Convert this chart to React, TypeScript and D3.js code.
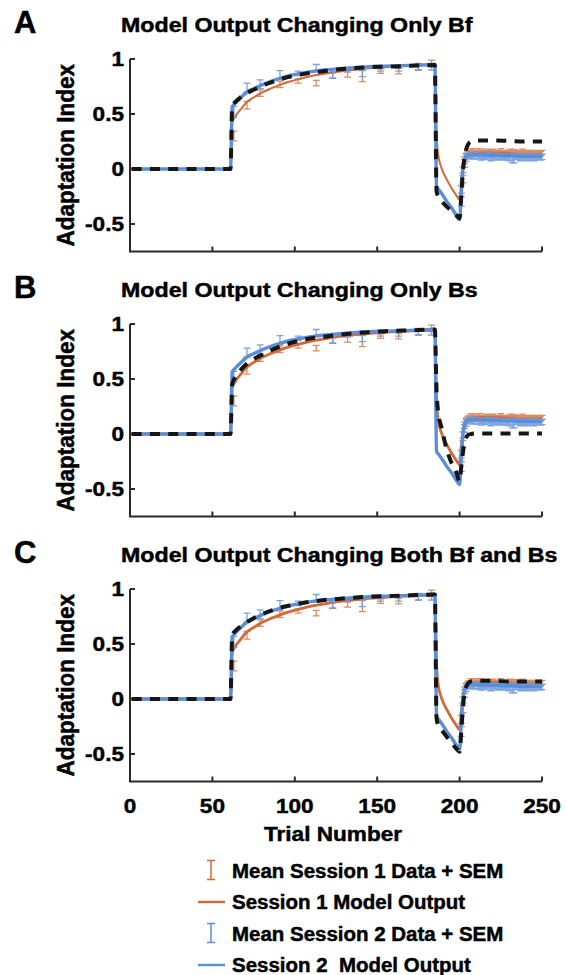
import React from 'react';
import * as d3 from 'd3';

// ---- Model output, sampled at these trial numbers ----
const modelTrials = [1, 61, 62, 64, 67, 71, 75, 80, 86, 91, 97, 102, 110, 118, 126, 135, 145, 155, 165, 175, 185, 186, 187, 189, 192, 195, 198, 200, 201, 202, 203, 204, 205, 207, 210, 220, 230, 240, 250];

const session1Model = [0, 0, 0.42, 0.48, 0.54, 0.61, 0.65, 0.695, 0.735, 0.765, 0.795, 0.815, 0.845, 0.865, 0.885, 0.9, 0.915, 0.925, 0.935, 0.94, 0.945, 0.32, 0.13, 0.01, -0.09, -0.17, -0.24, -0.28, -0.12, 0.0, 0.07, 0.11, 0.13, 0.145, 0.15, 0.15, 0.145, 0.14, 0.14];
const session2Model = [0, 0, 0.56, 0.6, 0.645, 0.7, 0.73, 0.765, 0.8, 0.825, 0.85, 0.865, 0.885, 0.9, 0.91, 0.92, 0.93, 0.935, 0.94, 0.945, 0.95, -0.16, -0.18, -0.22, -0.29, -0.35, -0.42, -0.46, -0.22, 0.0, 0.09, 0.12, 0.125, 0.13, 0.13, 0.125, 0.12, 0.115, 0.115];
const onlyBfModel = [0, 0, 0.57, 0.61, 0.65, 0.69, 0.72, 0.755, 0.79, 0.815, 0.84, 0.855, 0.875, 0.89, 0.905, 0.915, 0.925, 0.93, 0.935, 0.94, 0.945, -0.2, -0.25, -0.29, -0.34, -0.38, -0.42, -0.45, -0.25, -0.02, 0.1, 0.18, 0.22, 0.25, 0.26, 0.26, 0.255, 0.25, 0.25];
const onlyBsModel = [0, 0, 0.45, 0.52, 0.58, 0.64, 0.68, 0.72, 0.765, 0.795, 0.825, 0.845, 0.87, 0.885, 0.9, 0.915, 0.925, 0.935, 0.94, 0.945, 0.95, 0.4, 0.2, 0.06, -0.13, -0.26, -0.35, -0.43, -0.3, -0.17, -0.07, -0.03, -0.01, 0.0, 0.005, 0.005, 0.005, 0.005, 0.005];
const bothModel = [0, 0, 0.58, 0.62, 0.66, 0.7, 0.735, 0.77, 0.805, 0.83, 0.85, 0.865, 0.885, 0.9, 0.91, 0.92, 0.93, 0.935, 0.94, 0.945, 0.95, -0.17, -0.24, -0.28, -0.34, -0.4, -0.45, -0.48, -0.3, -0.08, 0.05, 0.11, 0.14, 0.16, 0.165, 0.165, 0.16, 0.16, 0.16];

// ---- Binned data during adaptation ----
const binTrials = [63, 71, 79, 91, 102, 113, 123, 132, 141, 152, 163, 175, 183];
const session1BinMean = [0.3, 0.58, 0.69, 0.77, 0.8, 0.78, 0.85, 0.87, 0.845, 0.89, 0.89, 0.93, 0.96];
const session1BinSem = [0.045, 0.035, 0.03, 0.03, 0.02, 0.025, 0.025, 0.035, 0.05, 0.02, 0.025, 0.03, 0.03];
const session2BinMean = [0.52, 0.74, 0.77, 0.855, 0.87, 0.92, 0.855, 0.9, 0.87, 0.91, 0.91, 0.92, 0.93];
const session2BinSem = [0.05, 0.04, 0.04, 0.04, 0.02, 0.03, 0.03, 0.02, 0.03, 0.02, 0.02, 0.02, 0.03];

// ---- Trial-by-trial data after the counter-perturbation (trials 201-250) ----
const washTrials = d3.range(201, 251);
const session1WashMean = [-0.2, -0.02, 0.08, 0.12, 0.14, 0.15, 0.16, 0.15, 0.16, 0.15, 0.14, 0.16, 0.15, 0.15, 0.14, 0.16, 0.15, 0.14, 0.15, 0.16, 0.15, 0.14, 0.15, 0.15, 0.16, 0.14, 0.15, 0.15, 0.14, 0.15, 0.16, 0.14, 0.15, 0.14, 0.15, 0.15, 0.14, 0.16, 0.15, 0.14, 0.15, 0.14, 0.15, 0.15, 0.14, 0.15, 0.14, 0.15, 0.14, 0.15];
const session1WashSem = [0.05, 0.04, 0.03, 0.025, 0.02, 0.02, 0.025, 0.02, 0.02, 0.015, 0.02, 0.025, 0.02, 0.02, 0.015, 0.02, 0.02, 0.02, 0.025, 0.02, 0.02, 0.015, 0.02, 0.02, 0.025, 0.02, 0.02, 0.015, 0.02, 0.02, 0.02, 0.02, 0.025, 0.02, 0.02, 0.015, 0.02, 0.02, 0.02, 0.02, 0.015, 0.02, 0.02, 0.02, 0.02, 0.015, 0.02, 0.02, 0.02, 0.02];
const session2WashMean = [-0.28, -0.08, 0.05, 0.1, 0.12, 0.12, 0.13, 0.11, 0.12, 0.13, 0.11, 0.12, 0.1, 0.12, 0.11, 0.12, 0.13, 0.11, 0.1, 0.12, 0.11, 0.12, 0.1, 0.11, 0.12, 0.11, 0.1, 0.12, 0.11, 0.1, 0.11, 0.09, 0.1, 0.11, 0.12, 0.11, 0.1, 0.11, 0.12, 0.11, 0.1, 0.11, 0.12, 0.11, 0.1, 0.11, 0.12, 0.11, 0.1, 0.11];
const session2WashSem = [0.06, 0.045, 0.035, 0.03, 0.025, 0.02, 0.025, 0.02, 0.025, 0.02, 0.02, 0.025, 0.02, 0.02, 0.025, 0.02, 0.02, 0.02, 0.025, 0.02, 0.02, 0.025, 0.02, 0.02, 0.02, 0.025, 0.02, 0.02, 0.02, 0.025, 0.03, 0.035, 0.045, 0.025, 0.02, 0.02, 0.025, 0.02, 0.02, 0.02, 0.025, 0.02, 0.02, 0.02, 0.025, 0.02, 0.02, 0.02, 0.02, 0.025];

// ---- Panels, ticks, legend ----
const panelLetters = ['A', 'B', 'C'];
const panelTitles = ['Model Output Changing Only Bf', 'Model Output Changing Only Bs', 'Model Output Changing Both Bf and Bs'];
const panelModels = [onlyBfModel, onlyBsModel, bothModel];
const session1Widths = [2, 2.8, 2.8];
const yTicks = [-0.5, 0, 0.5, 1];
const yTickLabels = ['-0.5', '0', '0.5', '1'];
const xTicks = [0, 50, 100, 150, 200, 250];
const legendLabels = ['Mean Session 1 Data + SEM', 'Session 1 Model Output', 'Mean Session 2 Data + SEM', 'Session 2  Model Output'];

const ORANGE = '#D2693A';
const ORANGE_BAR = '#D9804F';
const BLUE = '#5B8ED8';
const BLUE_BAR = '#6E9CDC';
const BLACK = '#161616';
const AXIS = '#2a2a2a';
const FONT = '"Liberation Sans", Arial, Helvetica, sans-serif';

const W = 567;
const H = 975;
const PANEL_STEP = 265;
const PLOT_TOP = 59;
const PLOT_BOTTOM = 251.5;

const x = d3.scaleLinear().domain([0, 250]).range([130, 542]);

type TxtProps = {
  x: number;
  y: number;
  size: number;
  sx?: number;
  anchor?: 'start' | 'middle' | 'end';
  children: React.ReactNode;
};

// Bold label, optionally widened horizontally, with a thin outline for extra weight
function Txt({ x: tx, y: ty, size, sx = 1.15, anchor = 'start', children }: TxtProps) {
  return (
    <g transform={`translate(${tx},${ty}) scale(${sx},1)`}>
      <text
        x={0}
        y={0}
        textAnchor={anchor}
        fontFamily={FONT}
        fontWeight="bold"
        fontSize={size}
        fill="#000"
        stroke="#000"
        strokeWidth={0.45}
        style={{ whiteSpace: 'pre' }}
      >
        {children}
      </text>
    </g>
  );
}

function ErrorBars({ trials, mean, sem, y, color }: { trials: number[]; mean: number[]; sem: number[]; y: d3.ScaleLinear<number, number>; color: string }) {
  const cap = 3.5;
  return (
    <g stroke={color} strokeWidth={1.3} fill="none" opacity={0.9}>
      {trials.map((t, i) => {
        const cx = x(t);
        const y0 = y(mean[i] - sem[i]);
        const y1 = y(mean[i] + sem[i]);
        return (
          <path key={i} d={`M${cx},${y0}V${y1}M${cx - cap},${y0}H${cx + cap}M${cx - cap},${y1}H${cx + cap}`} />
        );
      })}
    </g>
  );
}

function Panel({ index }: { index: number }) {
  const off = index * PANEL_STEP;
  const y = d3.scaleLinear().domain([-0.75, 1]).range([PLOT_BOTTOM + off, PLOT_TOP + off]);
  const line = d3
    .line<number>()
    .x((_, i) => x(modelTrials[i]))
    .y((d) => y(d))
    .curve(d3.curveMonotoneX);
  const axisBottom = y(-0.75);
  const axisLeft = x(0);
  const tick = 5;
  const midY = (y(1) + y(-0.75)) / 2;

  return (
    <g>
      {/* panel letter and title */}
      <Txt x={14} y={33 + off} size={31} sx={1}>
        {panelLetters[index]}
      </Txt>
      <Txt x={121} y={32 + off} size={20} sx={1.16}>
        {panelTitles[index]}
      </Txt>

      {/* y label */}
      <g transform={`translate(74,${midY}) rotate(-90) scale(1,1.1)`}>
        <text
          textAnchor="middle"
          fontFamily={FONT}
          fontWeight="bold"
          fontSize={22.5}
          fill="#000"
          stroke="#000"
          strokeWidth={0.45}
        >
          Adaptation Index
        </text>
      </g>

      {/* axes */}
      <g stroke={AXIS} strokeWidth={2} fill="none">
        <path d={`M${axisLeft},${y(1)}V${axisBottom}H${x(250)}`} />
        {yTicks.map((t) => (
          <path key={`yt${t}`} d={`M${axisLeft},${y(t)}h${tick}`} />
        ))}
        {xTicks.map((t) => (
          <path key={`xt${t}`} d={`M${x(t)},${axisBottom}v${-tick}`} />
        ))}
      </g>
      {yTicks.map((t, i) => (
        <Txt key={`yl${t}`} x={124} y={y(t) + 7.3} size={20} sx={1.13} anchor="end">
          {yTickLabels[i]}
        </Txt>
      ))}
      {index === 2 &&
        xTicks.map((t) => (
          <Txt key={`xl${t}`} x={x(t)} y={axisBottom + 31} size={20} sx={1.13} anchor="middle">
            {String(t)}
          </Txt>
        ))}

      {/* session 1 */}
      <ErrorBars trials={binTrials} mean={session1BinMean} sem={session1BinSem} y={y} color={ORANGE_BAR} />
      <ErrorBars trials={washTrials} mean={session1WashMean} sem={session1WashSem} y={y} color={ORANGE_BAR} />
      <path d={line(session1Model) ?? ''} fill="none" stroke={ORANGE} strokeWidth={session1Widths[index]} strokeLinejoin="round" />

      {/* session 2 */}
      <ErrorBars trials={binTrials} mean={session2BinMean} sem={session2BinSem} y={y} color={BLUE_BAR} />
      <ErrorBars trials={washTrials} mean={session2WashMean} sem={session2WashSem} y={y} color={BLUE_BAR} />
      <path d={line(session2Model) ?? ''} fill="none" stroke={BLUE} strokeWidth={3.4} strokeLinejoin="round" />

      {/* altered-parameter model */}
      <path
        d={line(panelModels[index]) ?? ''}
        fill="none"
        stroke={BLACK}
        strokeWidth={4}
        strokeDasharray="10,8.3"
        strokeLinejoin="round"
      />
    </g>
  );
}

function Legend() {
  const rows = [877.5, 909, 940.5, 972];
  const symX = 211;
  const colors = [ORANGE, ORANGE, BLUE, BLUE];
  return (
    <g>
      {legendLabels.map((label, i) => {
        const base = rows[i];
        const isBar = i % 2 === 0;
        const c = colors[i];
        return (
          <g key={label}>
            {isBar ? (
              <path
                d={`M${symX},${base - 17}V${base + 2}M${symX - 4},${base - 17}H${symX + 4}M${symX - 4},${base + 2}H${symX + 4}`}
                stroke={c}
                strokeWidth={1.5}
                fill="none"
              />
            ) : (
              <path d={`M198,${base - 7}H225`} stroke={c} strokeWidth={2.4} fill="none" />
            )}
            <Txt x={232} y={base} size={19.5} sx={1.05}>
              {label}
            </Txt>
          </g>
        );
      })}
    </g>
  );
}

export default function App() {
  return (
    <svg
      width={W}
      height={H}
      viewBox={`0 0 ${W} ${H}`}
      style={{ position: 'absolute', left: 0, top: 0, display: 'block', background: '#fff' }}
    >
      <rect x={0} y={0} width={W} height={H} fill="#fff" />
      {[0, 1, 2].map((i) => (
        <Panel key={i} index={i} />
      ))}
      <Txt x={333} y={841} size={20} sx={1.13} anchor="middle">
        Trial Number
      </Txt>
      <Legend />
    </svg>
  );
}
